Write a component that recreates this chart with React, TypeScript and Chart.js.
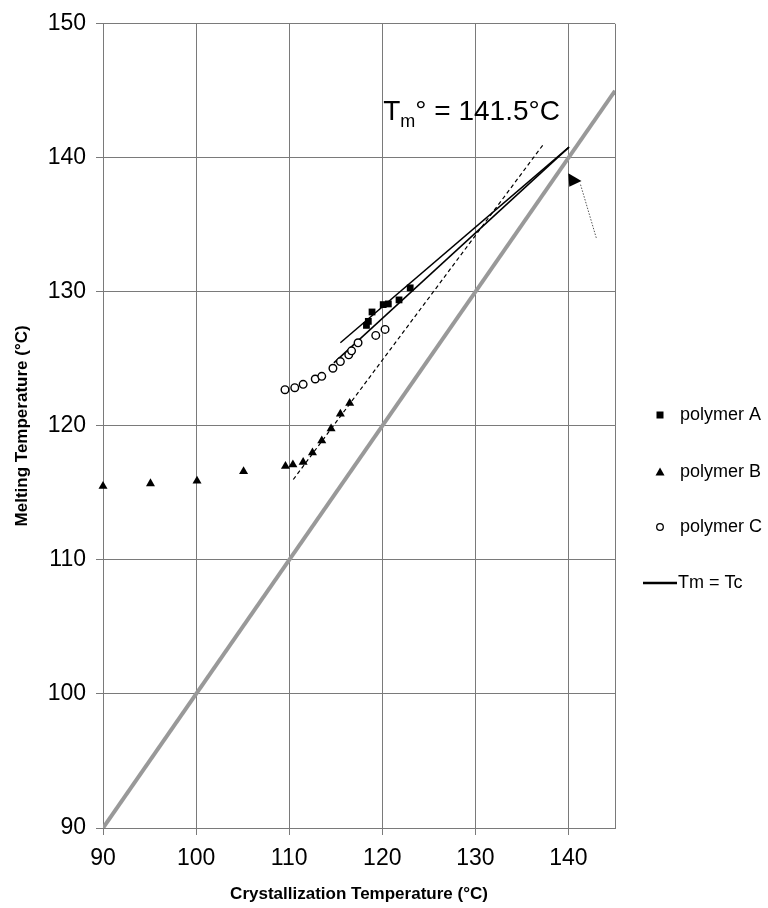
import React, { useEffect, useRef } from 'react';
import { Chart, registerables } from 'chart.js';

Chart.register(...registerables);

// ---- data ----
const polymerA_x = [118.3, 118.5, 118.9, 120.1, 120.65, 121.8, 123.0];
const polymerA_y = [127.5, 127.8, 128.5, 129.05, 129.1, 129.4, 130.3];

const polymerB_x = [90.0, 95.1, 100.1, 105.1, 109.6, 110.4, 111.5, 112.5, 113.5, 114.5, 115.5, 116.5];
const polymerB_y = [115.5, 115.7, 115.9, 116.6, 117.0, 117.1, 117.3, 118.0, 118.9, 119.8, 120.9, 121.7];

const polymerC_x = [109.55, 110.6, 111.5, 112.8, 113.5, 114.7, 115.5, 116.4, 116.7, 117.4, 119.3, 120.3];
const polymerC_y = [122.7, 122.85, 123.1, 123.5, 123.7, 124.3, 124.8, 125.3, 125.6, 126.2, 126.75, 127.2];

const tmEqualsTc_x = [90, 145];
const tmEqualsTc_y = [90, 145];

const fitA_x = [115.5, 140.06];
const fitA_y = [126.2, 140.8];
const fitC_x = [114.8, 140.06];
const fitC_y = [124.7, 140.8];
const fitB_x = [110.44, 137.3];
const fitB_y = [116.0, 141.0];

const arrowHead_x = [139.98, 140.09, 141.4];
const arrowHead_y = [138.85, 137.85, 138.28];
const arrowTail_x = [141.3, 143.0];
const arrowTail_y = [138.0, 134.0];

const annotX = 120.1;
const annotY = 142.8;

const xMin = 90, xMax = 145, xStep = 10;
const yMin = 90, yMax = 150, yStep = 10;

const legendLabels = ['polymer A', 'polymer B', 'polymer C', 'Tm = Tc'];

const FONT = '"Liberation Sans", Arial, Helvetica, sans-serif';
const GRID = '#7a7a7a';

const zip = (xs: number[], ys: number[]) => xs.map((x, i) => ({ x, y: ys[i] }));

const overlayPlugin = {
  id: 'overlay',
  afterDatasetsDraw(chart: any) {
    const { ctx, chartArea, scales } = chart;
    const xs = scales.x, ys = scales.y;
    ctx.save();
    // right border
    ctx.strokeStyle = GRID;
    ctx.lineWidth = 1;
    ctx.beginPath();
    ctx.moveTo(Math.round(chartArea.right) + 0.5, chartArea.top);
    ctx.lineTo(Math.round(chartArea.right) + 0.5, chartArea.bottom);
    ctx.stroke();

    // arrow
    ctx.strokeStyle = '#555';
    ctx.lineWidth = 1;
    ctx.setLineDash([1.5, 1.5]);
    ctx.beginPath();
    ctx.moveTo(xs.getPixelForValue(arrowTail_x[0]), ys.getPixelForValue(arrowTail_y[0]));
    ctx.lineTo(xs.getPixelForValue(arrowTail_x[1]), ys.getPixelForValue(arrowTail_y[1]));
    ctx.stroke();
    ctx.setLineDash([]);
    ctx.fillStyle = '#000';
    ctx.beginPath();
    arrowHead_x.forEach((v, i) => {
      const px = xs.getPixelForValue(v), py = ys.getPixelForValue(arrowHead_y[i]);
      if (i === 0) ctx.moveTo(px, py); else ctx.lineTo(px, py);
    });
    ctx.closePath();
    ctx.fill();

    // annotation Tm° = 141.5°C
    let px = xs.getPixelForValue(annotX);
    const py = ys.getPixelForValue(annotY);
    ctx.fillStyle = '#000';
    ctx.textBaseline = 'alphabetic';
    ctx.textAlign = 'left';
    ctx.font = `28px ${FONT}`;
    ctx.fillText('T', px, py);
    px += ctx.measureText('T').width;
    ctx.font = `18px ${FONT}`;
    ctx.fillText('m', px, py + 7);
    px += ctx.measureText('m').width;
    ctx.font = `28px ${FONT}`;
    ctx.fillText('° = 141.5°C', px, py);

    // legend
    const lx = chartArea.right + 45;
    const tx = chartArea.right + 65;
    const rows = [415, 472, 527, 583];
    ctx.font = `18px ${FONT}`;
    ctx.textBaseline = 'middle';
    ctx.fillStyle = '#000';
    ctx.fillRect(lx - 3.5, rows[0] - 3.5, 7, 7);
    ctx.fillText(legendLabels[0], tx, rows[0]);
    ctx.beginPath();
    ctx.moveTo(lx, rows[1] - 4.5);
    ctx.lineTo(lx + 4.5, rows[1] + 3.5);
    ctx.lineTo(lx - 4.5, rows[1] + 3.5);
    ctx.closePath();
    ctx.fill();
    ctx.fillText(legendLabels[1], tx, rows[1]);
    ctx.strokeStyle = '#000';
    ctx.lineWidth = 1.3;
    ctx.beginPath();
    ctx.arc(lx, rows[2], 3.3, 0, Math.PI * 2);
    ctx.stroke();
    ctx.fillText(legendLabels[2], tx, rows[2]);
    ctx.lineWidth = 2.5;
    ctx.beginPath();
    ctx.moveTo(chartArea.right + 28, rows[3]);
    ctx.lineTo(chartArea.right + 62, rows[3]);
    ctx.stroke();
    ctx.fillText(legendLabels[3], chartArea.right + 63, rows[3]);
    ctx.restore();
  },
};

export default function App() {
  const ref = useRef<HTMLCanvasElement | null>(null);
  useEffect(() => {
    if (!ref.current) return;
    const chart = new Chart(ref.current, {
      type: 'scatter',
      data: {
        datasets: [
          {
            label: 'polymer A',
            data: zip(polymerA_x, polymerA_y),
            pointStyle: 'rect',
            pointRadius: 4.8,
            backgroundColor: '#000',
            borderColor: '#000',
            borderWidth: 0,
            clip: false,
            order: 1,
          },
          {
            label: 'polymer B',
            data: zip(polymerB_x, polymerB_y),
            pointStyle: 'triangle',
            pointRadius: 5.2,
            backgroundColor: '#000',
            borderColor: '#000',
            borderWidth: 0,
            clip: false,
            order: 1,
          },
          {
            label: 'polymer C',
            data: zip(polymerC_x, polymerC_y),
            pointStyle: 'circle',
            pointRadius: 3.8,
            backgroundColor: '#fff',
            borderColor: '#000',
            borderWidth: 1.4,
            clip: false,
            order: 1,
          },
          {
            label: 'fit A',
            data: zip(fitA_x, fitA_y),
            showLine: true,
            pointRadius: 0,
            borderColor: '#000',
            borderWidth: 1.5,
            order: 2,
          },
          {
            label: 'fit C',
            data: zip(fitC_x, fitC_y),
            showLine: true,
            pointRadius: 0,
            borderColor: '#000',
            borderWidth: 1.5,
            order: 2,
          },
          {
            label: 'fit B',
            data: zip(fitB_x, fitB_y),
            showLine: true,
            pointRadius: 0,
            borderColor: '#000',
            borderWidth: 1.2,
            borderDash: [4, 3],
            order: 2,
          },
          {
            label: 'Tm = Tc',
            data: zip(tmEqualsTc_x, tmEqualsTc_y),
            showLine: true,
            pointRadius: 0,
            borderColor: '#999999',
            borderWidth: 4,
            order: 3,
          },
        ],
      },
      options: {
        animation: false,
        responsive: false,
        layout: { padding: { top: 22, right: 153, left: 0, bottom: 0 } },
        plugins: { legend: { display: false }, tooltip: { enabled: false } },
        scales: {
          x: {
            type: 'linear',
            min: xMin,
            max: xMax,
            ticks: {
              stepSize: xStep,
              includeBounds: false,
              color: '#000',
              font: { family: FONT, size: 23 },
              padding: 10,
              maxRotation: 0,
            },
            grid: { color: GRID, lineWidth: 1, tickLength: 7, tickColor: GRID },
            border: { color: GRID, width: 1 },
            title: {
              display: true,
              text: 'Crystallization Temperature (°C)',
              color: '#000',
              font: { family: FONT, size: 17, weight: 'bold' },
              padding: { top: 0, bottom: 3 },
            },
            afterFit: (s: any) => { s.height = 80; },
          },
          y: {
            type: 'linear',
            min: yMin,
            max: yMax,
            ticks: {
              stepSize: yStep,
              color: '#000',
              font: { family: FONT, size: 23 },
              padding: 10,
            },
            grid: { color: GRID, lineWidth: 1, tickLength: 7, tickColor: GRID },
            border: { color: GRID, width: 1 },
            title: {
              display: true,
              text: 'Melting Temperature (°C)',
              color: '#000',
              font: { family: FONT, size: 17, weight: 'bold' },
              padding: { top: 12, bottom: 0 },
            },
            afterFit: (s: any) => { s.width = 103; },
          },
        },
      },
      plugins: [overlayPlugin],
    } as any);
    return () => chart.destroy();
  }, []);
  return (
    <div style={{ position: 'absolute', left: 0, top: 0, width: 768, height: 908, background: '#fff' }}>
      <canvas ref={ref} width={768} height={908} style={{ display: 'block' }} />
    </div>
  );
}
